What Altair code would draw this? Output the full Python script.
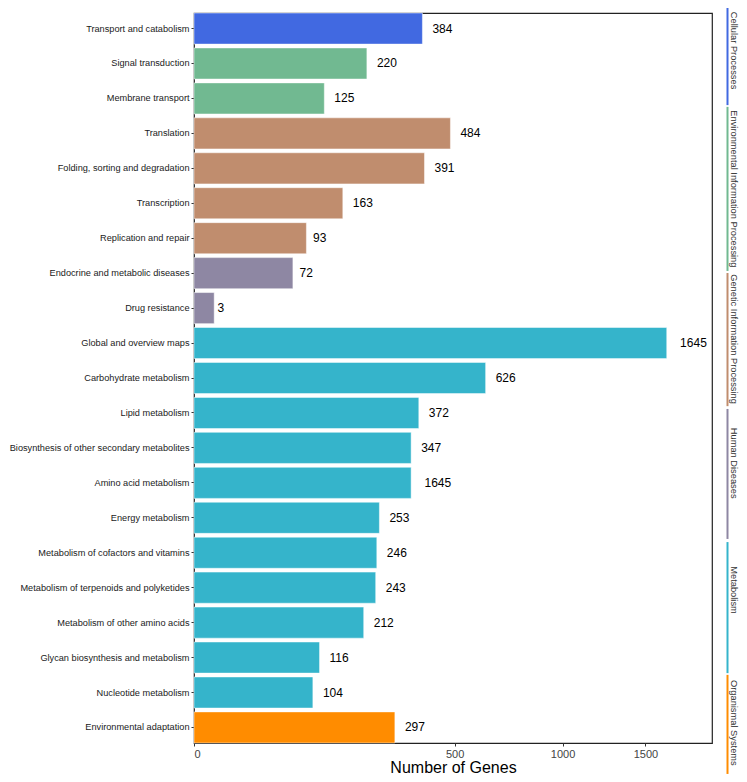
import altair as alt
import pandas as pd

categories = [
    "Transport and catabolism", "Signal transduction", "Membrane transport",
    "Translation", "Folding, sorting and degradation", "Transcription",
    "Replication and repair", "Endocrine and metabolic diseases", "Drug resistance",
    "Global and overview maps", "Carbohydrate metabolism", "Lipid metabolism",
    "Biosynthesis of other secondary metabolites", "Amino acid metabolism",
    "Energy metabolism", "Metabolism of cofactors and vitamins",
    "Metabolism of terpenoids and polyketides", "Metabolism of other amino acids",
    "Glycan biosynthesis and metabolism", "Nucleotide metabolism",
    "Environmental adaptation",
]
values = [384, 220, 125, 484, 391, 163, 93, 72, 3, 1645, 626, 372, 347, 347,
          253, 246, 243, 212, 116, 104, 297]
labels = ["384", "220", "125", "484", "391", "163", "93", "72", "3", "1645", "626",
          "372", "347", "1645", "253", "246", "243", "212", "116", "104", "297"]
groups = (["Cellular Processes"]
          + ["Environmental Information Processing"] * 2
          + ["Genetic Information Processing"] * 4
          + ["Human Diseases"] * 2
          + ["Metabolism"] * 11
          + ["Organismal Systems"])

group_names = ["Cellular Processes", "Environmental Information Processing",
               "Genetic Information Processing", "Human Diseases", "Metabolism",
               "Organismal Systems"]
group_colors = ["#4169E1", "#71B991", "#C08D6E", "#8E87A3", "#35B4CB", "#FF8C00"]
# strip extents / text centres, in row units (0 = top of the plot, 21 = bottom)
strip_start = [-0.29, 2.70, 7.48, 11.39, 15.22, 19.04]
strip_end = [2.65, 7.42, 11.31, 15.13, 18.99, 21.89]
strip_text = [1.08, 5.06, 9.38, 12.95, 16.60, 20.42]

df = pd.DataFrame({"category": categories, "value": values, "label": labels,
                   "group": groups})
df["nch"] = df["label"].str.len()
sdf = pd.DataFrame({"group": group_names, "start": strip_start, "end": strip_end,
                    "mid": strip_text})

FONT = "Liberation Sans"
W, H = 518, 730

xscale = alt.Scale(type="sqrt", domain=[0, 1975], nice=False)
yscale = alt.Scale(domain=categories, paddingInner=0.11, paddingOuter=0)
cscale = alt.Scale(domain=group_names, range=group_colors)

base = alt.Chart(df)
bars = base.mark_bar(stroke="white", strokeWidth=0.8, strokeOpacity=0.6).encode(
    y=alt.Y("category:N", sort=categories, scale=yscale,
            axis=alt.Axis(title=None, labelFontSize=9.2, labelColor="#1a1a1a",
                          tickSize=3, tickColor="#333", labelPadding=2,
                          domain=False, labelLimit=0, labelFont=FONT)),
    x=alt.X("value:Q", scale=xscale,
            axis=alt.Axis(values=[0, 500, 1000, 1500], format="d",
                          title="Number of Genes",
                          titleFontSize=16, titleFontWeight="normal",
                          titleColor="black", titleFont=FONT, titlePadding=0,
                          labelFontSize=11, labelColor="#444", labelFont=FONT,
                          tickSize=3, tickColor="#333", labelPadding=2,
                          domain=False, grid=False)),
    color=alt.Color("group:N", scale=cscale, legend=None),
)

texts = []
for n in [1, 2, 3, 4]:
    t = base.transform_filter(alt.datum.nch == n).mark_text(
        align="left", baseline="middle", dx=n * 3.34, fontSize=12, font=FONT,
        color="black").encode(
        y=alt.Y("category:N", sort=categories, scale=yscale),
        x=alt.X("value:Q", scale=xscale),
        text="label:N",
    )
    texts.append(t)

rscale = alt.Scale(domain=[0, 21], reverse=True, nice=False, zero=False)
strips = alt.Chart(sdf).mark_rule(strokeWidth=2).encode(
    x=alt.value(533.5),
    y=alt.Y("start:Q", scale=rscale, axis=None),
    y2="end:Q",
    color=alt.Color("group:N", scale=cscale, legend=None),
)
strip_labels = alt.Chart(sdf).mark_text(
    angle=90, align="center", baseline="middle", fontSize=9.3, font=FONT,
    color="#333").encode(
    x=alt.value(539.5),
    y=alt.Y("mid:Q", scale=rscale, axis=None),
    text="group:N",
)

main = alt.layer(bars, *texts)
side = alt.layer(strips, strip_labels)

chart = alt.layer(main, side).resolve_scale(y="independent").properties(
    width=W, height=H,
    autosize=alt.AutoSizeParams(type="none"),
    padding={"left": 186, "top": 5, "right": 27, "bottom": 31},
).configure_view(stroke="#222", strokeWidth=1.2).configure_axis(grid=False)

chart.save("out.html", embed_options={"renderer": "svg", "actions": False})
